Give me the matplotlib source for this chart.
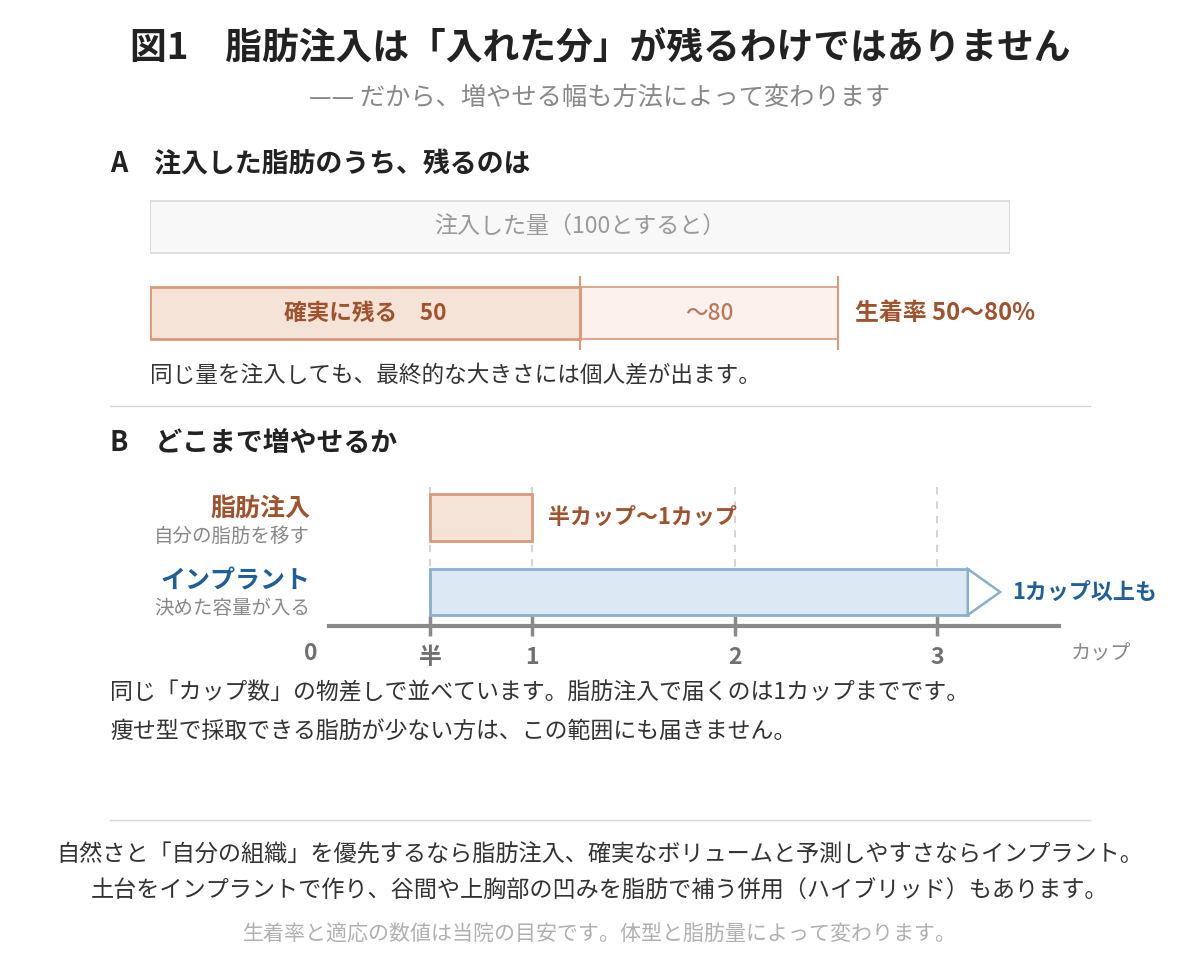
import numpy as np
import matplotlib.pyplot as plt
from matplotlib.patches import Polygon

plt.rcParams['font.family'] = ['Noto Sans CJK JP', 'DejaVu Sans']

W, H = 1200, 980

# ---- data ----
title = "図1　脂肪注入は「入れた分」が残るわけではありません"
subtitle = "—— だから、増やせる幅も方法によって変わります"

# panel A : injected = 100, sure to remain = 50, up to 80
injected = 100
retained_sure = 50
retained_max = 80

# panel B : cups
methods = ["脂肪注入", "インプラント"]
method_sub = ["自分の脂肪を移す", "決めた容量が入る"]
method_range = [(0.5, 1.0), (0.5, 3.15)]
method_note = ["半カップ〜1カップ", "1カップ以上も"]
arrow_len = 0.16
cup_ticks = [0.5, 1, 2, 3]
cup_labels = ["半", "1", "2", "3"]
cup_max = 3.6

BROWN = "#a0522d"
PEACH = "#f6e3d8"
PEACH_LT = "#fcf1ec"
PEACH_EDGE = "#d99a7a"
BLUE = "#1f5f99"
BLUE_FILL = "#dce8f3"
BLUE_EDGE = "#8aaed2"
DARK = "#333333"
GRAY = "#888888"


def fx(x):
    return x / W


def fy(y):
    return 1 - y / H


fig = plt.figure(figsize=(12, 9.8), dpi=100)
fig.patch.set_facecolor("white")


def t(x, y, s, **kw):
    kw.setdefault("va", "center")
    fig.text(fx(x), fy(y), s, **kw)


# titles
t(600, 49, title, ha="center", fontsize=26.5, fontweight="bold", color="#222222")
t(600, 98, subtitle, ha="center", fontsize=18.2, color=GRAY)

# section A
t(110, 164, "A　注入した脂肪のうち、残るのは", fontsize=19.4, fontweight="bold", color="#222222")

# panel A axes : x 150..1010 px, y 190..360 px ; rows at 227 / 313 px
row_px = 86
top_px, bot_px = 190, 360
axA = fig.add_axes([fx(150), fy(bot_px), fx(1010) - fx(150), (bot_px - top_px) / H])
axA.set_xlim(0, injected)
axA.set_ylim((bot_px - 227) / row_px, (top_px - 227) / row_px)
axA.axis("off")
bh = 52 / row_px
axA.barh(0, injected, height=bh, color="#f8f8f8", edgecolor="#d8d8d8", linewidth=1.2)
axA.barh(1, retained_max - retained_sure, left=retained_sure, height=bh,
         color=PEACH_LT, edgecolor=PEACH_EDGE, linewidth=1.2)
axA.barh(1, retained_sure, height=bh, color=PEACH, edgecolor=PEACH_EDGE, linewidth=2)
axA.vlines([retained_sure, retained_max], 1 - 37 / row_px, 1 + 37 / row_px,
           color=PEACH_EDGE, linewidth=1.5)
axA.text(injected / 2, 0, "注入した量（100とすると）", ha="center", va="center",
         fontsize=16.6, color="#999999")
axA.text(retained_sure / 2, 1, f"確実に残る　{retained_sure}", ha="center", va="center",
         fontsize=16.3, fontweight="bold", color=BROWN)
axA.text((retained_sure + retained_max) / 2, 1, f"〜{retained_max}", ha="center", va="center",
         fontsize=16.3, fontweight="medium", color="#b87a5a")
axA.text(retained_max + 2, 1, f"生着率 {retained_sure}〜{retained_max}%", ha="left", va="center",
         fontsize=17.2, fontweight="bold", color=BROWN)

t(150, 375, "同じ量を注入しても、最終的な大きさには個人差が出ます。", fontsize=16.3, color=DARK)

fig.add_artist(plt.Line2D([fx(110), fx(1090)], [fy(406), fy(406)], color="#d8d8d8", lw=1))

# section B
t(110, 443, "B　どこまで増やせるか", fontsize=19.4, fontweight="bold", color="#222222")

# panel B axes : x 329..1059 px (0..3.6 cups), y 480..626 px ; rows at 517.5 / 592 px
rowB = 74.5
topB, botB = 480, 626
axB = fig.add_axes([fx(329), fy(botB), fx(1059) - fx(329), (botB - topB) / H])
axB.set_xlim(0, cup_max)
axB.set_ylim((botB - 517.5) / rowB, (topB - 517.5) / rowB)
for s in ["top", "right", "left"]:
    axB.spines[s].set_visible(False)
axB.spines["bottom"].set_color("#8a8a8a")
axB.spines["bottom"].set_linewidth(3)
axB.set_yticks([])
axB.set_xticks(cup_ticks)
axB.set_xticklabels(cup_labels)
axB.tick_params(axis="x", direction="inout", length=15, width=2.5, color="#8a8a8a",
                labelsize=16.5, labelcolor="#707070", pad=7)
for lab in axB.get_xticklabels():
    lab.set_fontweight("bold")
axB.vlines(cup_ticks, (487 - 517.5) / rowB, (620 - 517.5) / rowB,
           colors="#d0d0d0", linestyles=(0, (4, 4)), linewidth=1.3, zorder=0)

colors_fill = [PEACH, BLUE_FILL]
colors_edge = [PEACH_EDGE, BLUE_EDGE]
heights = [47 / rowB, 46 / rowB]
for i, (a, b) in enumerate(method_range):
    axB.barh(i, b - a, left=a, height=heights[i], color=colors_fill[i],
             edgecolor=colors_edge[i], linewidth=2, zorder=2)

# arrow head on implant
a, b = method_range[1]
hh = heights[1] / 2
axB.add_patch(Polygon([(b, 1 - hh), (b + arrow_len, 1), (b, 1 + hh)], closed=True,
                      facecolor="white", edgecolor=BLUE_EDGE, linewidth=1.8, zorder=3))

axB.text(method_range[0][1] + 0.08, 0, method_note[0], ha="left", va="center",
         fontsize=15.8, fontweight="bold", color=BROWN)
axB.text(b + arrow_len + 0.06, 1, method_note[1], ha="left", va="center",
         fontsize=15.8, fontweight="bold", color=BLUE)
axB.text(-0.09, -0.19, "0", transform=axB.get_xaxis_transform(), ha="center", va="center",
         fontsize=16.5, fontweight="bold", color="#707070")
axB.text(3.66, -0.19, "カップ", transform=axB.get_xaxis_transform(), ha="left", va="center",
         fontsize=14.5, color=GRAY)
axB.set_facecolor("none")

name_colors = [BROWN, BLUE]
name_y = [509, 582]
for i in range(2):
    t(310, name_y[i], methods[i], ha="right", fontsize=18, fontweight="bold", color=name_colors[i])
    t(310, name_y[i] + 27, method_sub[i], ha="right", fontsize=14, color=GRAY)

t(110, 693, "同じ「カップ数」の物差しで並べています。脂肪注入で届くのは1カップまでです。",
  fontsize=16.5, color=DARK)
t(110, 731, "痩せ型で採取できる脂肪が少ない方は、この範囲にも届きません。",
  fontsize=16.5, color=DARK)

fig.add_artist(plt.Line2D([fx(110), fx(1090)], [fy(820), fy(820)], color="#d8d8d8", lw=1))

t(600, 855, "自然さと「自分の組織」を優先するなら脂肪注入、確実なボリュームと予測しやすさならインプラント。",
  ha="center", fontsize=16.7, color=DARK)
t(600, 891, "土台をインプラントで作り、谷間や上胸部の凹みを脂肪で補う併用（ハイブリッド）もあります。",
  ha="center", fontsize=16.7, color=DARK)
t(600, 935, "生着率と適応の数値は当院の目安です。体型と脂肪量によって変わります。",
  ha="center", fontsize=15.1, color="#b0b0b0")

fig.savefig("out.png", dpi=100, facecolor="white")
